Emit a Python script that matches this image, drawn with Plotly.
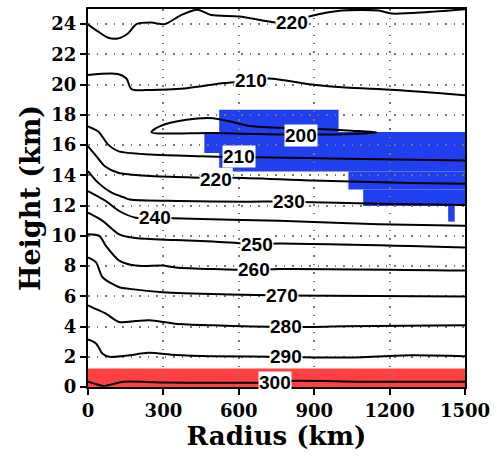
import plotly.graph_objects as go

# ---------------- data (radius km, height km) ----------------
t220_top_r = [0, 41, 80, 119, 160, 193, 252, 305, 371, 436, 490, 602, 747, 811, 879, 1010, 1156, 1208, 1354, 1500]
t220_top_h = [23.97, 23.5, 23.1, 23.05, 23.4, 24.0, 24.1, 24.0, 24.6, 24.95, 24.6, 24.5, 24.1, 24.1, 24.5, 24.9, 24.9, 24.7, 24.8, 24.98]

t210_top_r = [0, 119, 153, 173, 252, 384, 542, 648, 720, 891, 1024, 1222, 1500]
t210_top_h = [20.63, 20.7, 20.4, 19.7, 19.65, 19.75, 20.1, 20.26, 20.4, 20.0, 19.8, 19.65, 19.3]

t200_r = [252, 285, 391, 496, 562, 654, 892, 1050, 1149, 1024, 846, 760, 496, 252]
t200_h = [16.85, 17.24, 17.67, 17.78, 17.57, 17.24, 17.08, 16.95, 16.84, 16.72, 16.7, 16.7, 16.8, 16.85]

t210_low_r = [0, 41, 80, 120, 252, 450, 602, 668, 1024, 1500]
t210_low_h = [17.24, 16.9, 16.03, 15.6, 15.37, 15.26, 15.2, 15.2, 15.1, 14.98]

t220_low_r = [0, 28, 67, 120, 252, 450, 509, 575, 892, 1288, 1500]
t220_low_h = [15.92, 15.37, 14.6, 14.17, 13.95, 13.84, 13.8, 13.84, 13.66, 13.5, 13.44]

t230_r = [0, 41, 94, 146, 166, 364, 628, 800, 1156, 1500]
t230_h = [14.28, 13.5, 12.85, 12.52, 12.4, 12.3, 12.26, 12.26, 12.12, 12.04]

t240_r = [0, 71, 124, 190, 265, 338, 760, 1156, 1500]
t240_h = [12.96, 12.3, 11.64, 11.2, 11.2, 11.16, 10.99, 10.77, 10.66]

t250_r = [0, 58, 124, 190, 348, 496, 674, 760, 1500]
t250_h = [11.53, 10.99, 10.1, 9.85, 9.72, 9.62, 9.45, 9.49, 9.23]

t260_r = [0, 45, 71, 124, 190, 298, 348, 661, 760, 1500]
t260_h = [10.11, 10.0, 9.34, 8.36, 8.03, 8.03, 7.91, 7.74, 7.8, 7.7]

t270_r = [0, 32, 58, 124, 166, 298, 562, 773, 1500]
t270_h = [8.57, 8.24, 7.26, 6.6, 6.49, 6.27, 6.12, 6.05, 5.99]

t280_r = [0, 25, 71, 124, 190, 245, 348, 495, 786, 1024, 1500]
t280_h = [5.39, 5.2, 4.85, 4.3, 4.36, 4.41, 4.19, 4.08, 3.97, 4.01, 4.08]

t290_r = [0, 32, 58, 84, 166, 240, 348, 496, 786, 1024, 1288, 1500]
t290_h = [3.14, 2.87, 2.2, 2.0, 2.1, 2.26, 2.12, 2.04, 1.99, 1.95, 2.1, 2.04]

t300_r = [0, 30, 61, 100, 140, 300, 500, 747, 800, 1100, 1500]
t300_h = [0.35, 0.2, 0.07, 0.2, 0.35, 0.3, 0.28, 0.3, 0.4, 0.35, 0.35]

# contour labels
label_text = ["220", "210", "200", "210", "220", "230", "240", "250", "260", "270", "280", "290", "300"]
label_r = [811, 648, 846, 602, 509, 800, 266, 674, 661, 773, 786, 786, 744]
label_h = [24.1, 20.26, 16.65, 15.23, 13.75, 12.26, 11.18, 9.45, 7.74, 6.05, 3.97, 1.99, 0.3]

# blue cells (r0, r1, h0, h1)
blue_r0 = [522, 463, 522, 575, 1036, 1095, 1433]
blue_r1 = [997, 1500, 575, 1500, 1500, 1500, 1459]
blue_h0 = [16.86, 15.48, 14.5, 14.25, 13.07, 11.97, 10.94]
blue_h1 = [18.33, 16.86, 15.48, 15.48, 14.25, 13.07, 11.97]

# red layer
red_r0, red_r1, red_h0, red_h1 = 0, 1500, 0, 1.23

x_ticks = [0, 300, 600, 900, 1200, 1500]
y_ticks = list(range(0, 25, 2))

# ---------------- figure ----------------
fig = go.Figure()

lines = [
    (t220_top_r, t220_top_h), (t210_top_r, t210_top_h), (t200_r, t200_h),
    (t210_low_r, t210_low_h), (t220_low_r, t220_low_h), (t230_r, t230_h),
    (t240_r, t240_h), (t250_r, t250_h), (t260_r, t260_h), (t270_r, t270_h),
    (t280_r, t280_h), (t290_r, t290_h), (t300_r, t300_h),
]
for r, h in lines:
    fig.add_trace(go.Scatter(x=r, y=h, mode="lines",
                             line=dict(color="black", width=2, shape="spline", smoothing=0.8),
                             showlegend=False, hoverinfo="skip", cliponaxis=True))

shapes = []
for r0, r1, h0, h1 in zip(blue_r0, blue_r1, blue_h0, blue_h1):
    shapes.append(dict(type="rect", xref="x", yref="y", x0=r0, x1=r1, y0=h0, y1=h1,
                       fillcolor="#2040f0", line=dict(width=0), layer="below"))
shapes.append(dict(type="rect", xref="x", yref="y", x0=red_r0, x1=red_r1, y0=red_h0, y1=red_h1,
                   fillcolor="#ff4040", line=dict(width=0), layer="below"))

annotations = []
for t, r, h in zip(label_text, label_r, label_h):
    annotations.append(dict(x=r, y=h, xref="x", yref="y", text=t, showarrow=False,
                            bgcolor="white", borderpad=0,
                            font=dict(family="Liberation Sans", size=19, color="black", weight="bold")))

serif = "DejaVu Serif"
fig.update_layout(
    width=497, height=467,
    margin=dict(l=88, r=30, t=7, b=80),
    paper_bgcolor="white", plot_bgcolor="white",
    shapes=shapes, annotations=annotations,
    xaxis=dict(range=[0, 1500], tickvals=x_ticks, ticks="outside", ticklen=6, tickwidth=1.5,
               tickcolor="black", showline=True, linecolor="black", linewidth=2, mirror=True,
               showgrid=True, gridcolor="#777777", gridwidth=1.5, griddash="1.5px,7px", zeroline=False,
               tickfont=dict(family=serif, size=18, color="black", weight="bold"),
               title=dict(text="Radius (km)", font=dict(family=serif, size=26, color="black", weight="bold"),
                          standoff=5)),
    yaxis=dict(range=[0, 25], tickvals=y_ticks, ticks="outside", ticklen=6, tickwidth=1.5,
               tickcolor="black", showline=True, linecolor="black", linewidth=2, mirror=True,
               showgrid=True, gridcolor="#777777", gridwidth=1.5, griddash="1.5px,7px", zeroline=False,
               tickfont=dict(family=serif, size=18, color="black", weight="bold"),
               title=dict(text="Height (km)", font=dict(family=serif, size=27, color="black", weight="bold"),
                          standoff=3)),
)

fig.write_html("out.html")
